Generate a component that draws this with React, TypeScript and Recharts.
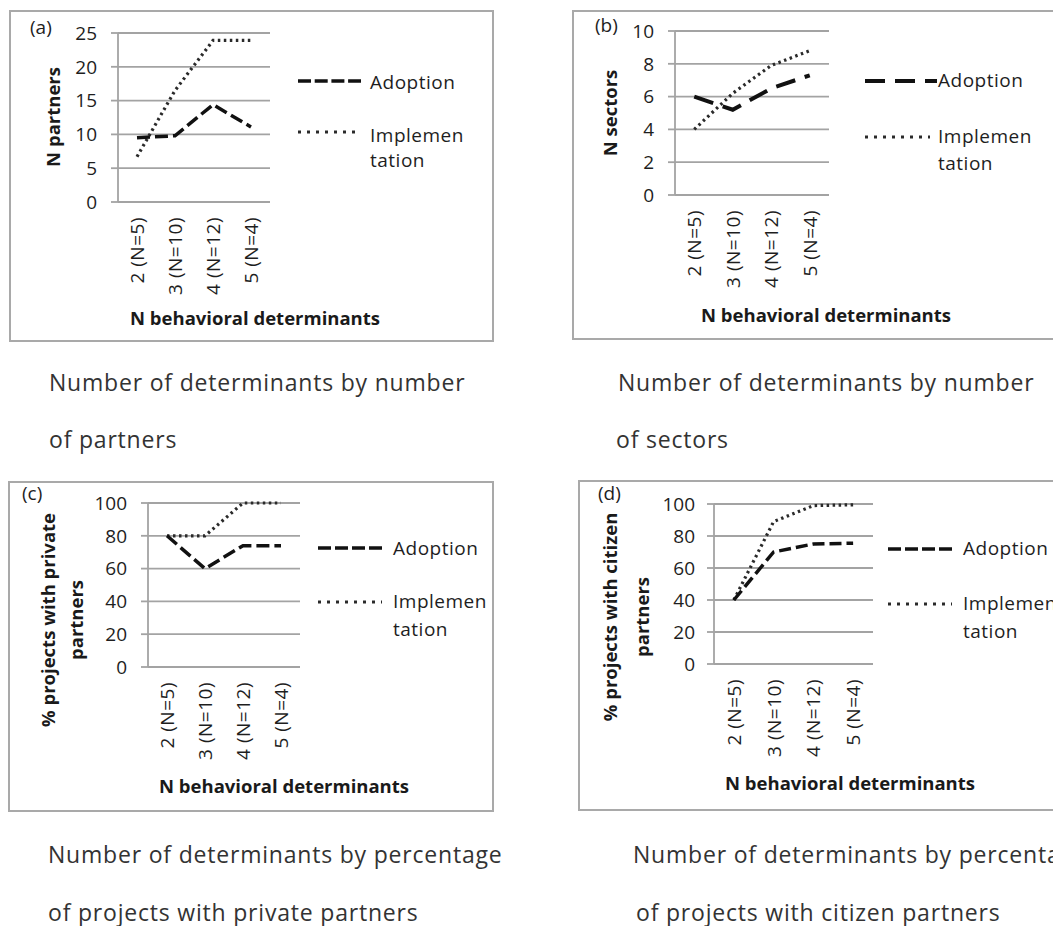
import React from 'react';
import { LineChart, Line, XAxis, YAxis, CartesianGrid, Legend } from 'recharts';

const FONT = '"Open Sans", "Noto Sans", sans-serif';

const categories = ['2 (N=5)', '3 (N=10)', '4 (N=12)', '5 (N=4)'];

const partnersAdoption = [9.5, 9.8, 14.4, 11.1];
const partnersImplementation = [6.7, 16.5, 23.9, 23.9];
const partnersTicks = [0, 5, 10, 15, 20, 25];

const sectorsAdoption = [6.0, 5.2, 6.5, 7.3];
const sectorsImplementation = [4.0, 6.2, 7.9, 8.8];
const sectorsTicks = [0, 2, 4, 6, 8, 10];

const privateAdoption = [80, 60, 74, 74];
const privateImplementation = [80, 80, 100, 100];
const citizenAdoption = [40, 70, 75, 75.5];
const citizenImplementation = [40, 89, 99, 99.5];
const percentTicks = [0, 20, 40, 60, 80, 100];

const seriesNames = ['Adoption', 'Implemen', 'tation'];
const xTitle = 'N behavioral determinants';

const captions = [
  { x: 49, y: 391, text: 'Number of determinants by number' },
  { x: 49, y: 448, text: 'of partners' },
  { x: 618, y: 391, text: 'Number of determinants by number' },
  { x: 616, y: 448, text: 'of sectors' },
  { x: 48, y: 863, text: 'Number of determinants by percentage' },
  { x: 48, y: 921, text: 'of projects with private partners' },
  { x: 633, y: 863, text: 'Number of determinants by percentage' },
  { x: 636, y: 921, text: 'of projects with citizen partners' },
];

const letters = [
  { x: 30, y: 34, text: '(a)' },
  { x: 595, y: 32, text: '(b)' },
  { x: 22, y: 500, text: '(c)' },
  { x: 598, y: 500, text: '(d)' },
];

const GRID = '#a3a3a3';
const TXT = '#1e1e1e';
const DOT = '#2a2a2a';

type LegendCfg = {
  x1: number; x2a: number; x2i: number; textX: number;
  l1: number; l2: number; b1: number; b2: number; b3: number;
};

type Panel = {
  key: string;
  left: number; top: number; width: number; height: number;
  yAxisWidth: number; marginTop: number; marginRight: number; xAxisHeight: number;
  ticks: number[]; tickMargin: number;
  adoption: number[]; implementation: number[];
  adoptionDash: string; adoptionLegendDash: string; adoptionWidth: number;
  yTitle: string[]; yTitleX: number[]; yTitleY: number;
  xTitleX: number; xTitleY: number;
  legend: LegendCfg;
};

const panels: Panel[] = [
  {
    key: 'a', left: 9, top: 10, width: 485, height: 332,
    yAxisWidth: 109, marginTop: 23, marginRight: 224, xAxisHeight: 140,
    ticks: partnersTicks, tickMargin: 14,
    adoption: partnersAdoption, implementation: partnersImplementation,
    adoptionDash: '13 5', adoptionLegendDash: '13 3.7', adoptionWidth: 3.5,
    yTitle: ['N partners'], yTitleX: [51], yTitleY: 107,
    xTitleX: 246, xTitleY: 315,
    legend: { x1: 289, x2a: 352, x2i: 352, textX: 361, l1: 71, l2: 122, b1: 79, b2: 132, b3: 157 },
  },
  {
    key: 'b', left: 572, top: 10, width: 508, height: 330,
    yAxisWidth: 103, marginTop: 21, marginRight: 251, xAxisHeight: 145,
    ticks: sectorsTicks, tickMargin: 14,
    adoption: sectorsAdoption, implementation: sectorsImplementation,
    adoptionDash: '20 10', adoptionLegendDash: '20 10', adoptionWidth: 4,
    yTitle: ['N sectors'], yTitleX: [45], yTitleY: 103,
    xTitleX: 254, xTitleY: 312,
    legend: { x1: 293, x2a: 365, x2i: 358, textX: 366, l1: 71, l2: 127, b1: 77, b2: 133, b3: 160 },
  },
  {
    key: 'c', left: 8, top: 481, width: 486, height: 331,
    yAxisWidth: 140, marginTop: 22, marginRight: 194, xAxisHeight: 145,
    ticks: percentTicks, tickMargin: 14,
    adoption: privateAdoption, implementation: privateImplementation,
    adoptionDash: '13 5', adoptionLegendDash: '13 4', adoptionWidth: 3.5,
    yTitle: ['% projects with private', 'partners'], yTitleX: [47, 75], yTitleY: 139,
    xTitleX: 276, xTitleY: 312,
    legend: { x1: 310, x2a: 374, x2i: 374, textX: 385, l1: 67, l2: 121, b1: 74, b2: 127, b3: 155 },
  },
  {
    key: 'd', left: 578, top: 480, width: 520, height: 331,
    yAxisWidth: 136, marginTop: 24, marginRight: 225, xAxisHeight: 147,
    ticks: percentTicks, tickMargin: 12,
    adoption: citizenAdoption, implementation: citizenImplementation,
    adoptionDash: '12 5', adoptionLegendDash: '13 4', adoptionWidth: 3.5,
    yTitle: ['% projects with citizen', 'partners'], yTitleX: [39, 71], yTitleY: 137,
    xTitleX: 272, xTitleY: 310,
    legend: { x1: 310, x2a: 374, x2i: 374, textX: 385, l1: 69, l2: 124, b1: 75, b2: 130, b3: 158 },
  },
];

function RotTick(props: any) {
  const { x, y, payload } = props;
  return (
    <text
      transform={`translate(${x + 7},${y + 15}) rotate(-90)`}
      textAnchor="end"
      fontSize={19}
      letterSpacing={0.5}
      fill={TXT}
      fontFamily={FONT}
    >
      {payload.value}
    </text>
  );
}

function XTitle(props: any) {
  const { tx, ty } = props;
  return (
    <text x={tx} y={ty} textAnchor="middle" fontSize={18.5} fontWeight={700} fill="#1a1a1a" fontFamily={FONT}>
      {xTitle}
    </text>
  );
}

function YTitle(props: any) {
  const { lines, xs, cy } = props;
  return (
    <g>
      {lines.map((l: string, i: number) => (
        <text
          key={i}
          transform={`translate(${xs[i]},${cy}) rotate(-90)`}
          textAnchor="middle"
          fontSize={18.5}
          fontWeight={700}
          fill="#1a1a1a"
          fontFamily={FONT}
        >
          {l}
        </text>
      ))}
    </g>
  );
}

function LegendBox({ p }: { p: Panel }) {
  const L = p.legend;
  return (
    <svg width={p.width} height={p.height} style={{ display: 'block', overflow: 'visible' }}>
      <line x1={L.x1} x2={L.x2a} y1={L.l1} y2={L.l1} stroke="#111" strokeWidth={p.adoptionWidth} strokeDasharray={p.adoptionLegendDash} />
      <line x1={L.x1} x2={L.x2i} y1={L.l2} y2={L.l2} stroke={DOT} strokeWidth={3.2} strokeDasharray="3 6" />
      <text x={L.textX} y={L.b1} fontSize={19} letterSpacing={0.5} fill={TXT} fontFamily={FONT}>{seriesNames[0]}</text>
      <text x={L.textX} y={L.b2} fontSize={19} letterSpacing={0.5} fill={TXT} fontFamily={FONT}>{seriesNames[1]}</text>
      <text x={L.textX} y={L.b3} fontSize={19} letterSpacing={0.5} fill={TXT} fontFamily={FONT}>{seriesNames[2]}</text>
    </svg>
  );
}

function PanelChart({ p }: { p: Panel }) {
  const data = categories.map((c, i) => ({ cat: c, adoption: p.adoption[i], implementation: p.implementation[i] }));
  const plotW = p.width - p.yAxisWidth - p.marginRight;
  const pad = plotW / 8;
  const maxTick = p.ticks[p.ticks.length - 1];
  return (
    <div style={{ position: 'absolute', left: p.left, top: p.top, width: p.width, height: p.height }}>
      <LineChart
        width={p.width}
        height={p.height}
        data={data}
        margin={{ top: p.marginTop, right: p.marginRight, bottom: 0, left: 0 }}
      >
        <CartesianGrid vertical={false} stroke={GRID} strokeWidth={1.8} />
        <XAxis
          dataKey="cat"
          height={p.xAxisHeight}
          padding={{ left: pad, right: pad }}
          axisLine={{ stroke: GRID, strokeWidth: 1.8 }}
          tickLine={false}
          tickSize={0}
          tickMargin={0}
          interval={0}
          tick={<RotTick />}
          label={<XTitle tx={p.xTitleX} ty={p.xTitleY} />}
        />
        <YAxis
          width={p.yAxisWidth}
          domain={[0, maxTick]}
          ticks={p.ticks}
          interval={0}
          axisLine={{ stroke: GRID, strokeWidth: 1.8 }}
          tickLine={{ stroke: GRID, strokeWidth: 1.8 }}
          tickSize={7}
          tickMargin={p.tickMargin}
          tick={{ fontSize: 19, fill: TXT, fontFamily: FONT }}
          label={<YTitle lines={p.yTitle} xs={p.yTitleX} cy={p.yTitleY} />}
        />
        <Legend
          layout="horizontal"
          verticalAlign="middle"
          align="center"
          wrapperStyle={{ left: 0, top: 0, width: p.width, height: p.height, pointerEvents: 'none' }}
          content={() => <LegendBox p={p} />}
        />
        <Line
          type="linear"
          dataKey="implementation"
          name="Implementation"
          stroke={DOT}
          strokeWidth={3.2}
          strokeDasharray="2.5 3.5"
          dot={false}
          activeDot={false}
          isAnimationActive={false}
        />
        <Line
          type="linear"
          dataKey="adoption"
          name="Adoption"
          stroke="#111"
          strokeWidth={p.adoptionWidth}
          strokeDasharray={p.adoptionDash}
          dot={false}
          activeDot={false}
          isAnimationActive={false}
        />
      </LineChart>
      <div
        style={{
          position: 'absolute', left: 0, top: 0, width: p.width, height: p.height,
          border: '2px solid #a9a9a9', boxSizing: 'border-box', pointerEvents: 'none',
        }}
      />
    </div>
  );
}

export default function App() {
  return (
    <div
      style={{
        position: 'absolute', left: 0, top: 0, width: 1053, height: 926,
        overflow: 'hidden', background: '#fff', fontFamily: FONT,
      }}
    >
      {panels.map((p) => (
        <PanelChart key={p.key} p={p} />
      ))}
      <svg width={1053} height={926} style={{ position: 'absolute', left: 0, top: 0, pointerEvents: 'none' }}>
        {letters.map((l) => (
          <text key={l.text} x={l.x} y={l.y} fontSize={19} fill={TXT} fontFamily={FONT}>{l.text}</text>
        ))}
        {captions.map((c, i) => (
          <text key={i} x={c.x} y={c.y} fontSize={23} letterSpacing={0.8} fill="#333" fontFamily={FONT}>{c.text}</text>
        ))}
      </svg>
    </div>
  );
}
